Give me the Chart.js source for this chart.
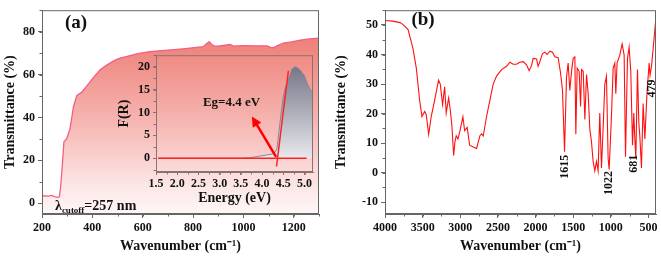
<!DOCTYPE html>
<html lang="en">
<head>
<meta charset="UTF-8">
<title>UV-Vis and FTIR spectra</title>
<script src="https://cdn.jsdelivr.net/npm/chart.js"></script>
<style>
  body { margin: 0; background: #fff; }
  #wrap { position: relative; width: 661px; height: 259px; }
  #wrap > div { position: absolute; }
</style>
</head>
<body>
<div id="wrap">
  <div style="left:0;top:0;width:330px;height:259px"><canvas id="uvChart"></canvas></div>
  <div style="left:110px;top:45px;width:210px;height:165px"><canvas id="insetChart"></canvas></div>
  <div style="left:330px;top:0;width:331px;height:259px"><canvas id="irChart"></canvas></div>
</div>
<script>
// (a) transmittance spectrum
const uvWave  = [200, 225, 238, 252, 262, 269, 274, 282, 287, 298, 311, 325, 338, 358, 378, 404, 431, 457, 490, 510, 538, 580, 629, 700, 760, 840, 852, 864, 874, 884, 900, 948, 960, 1000, 1050, 1094, 1110, 1119, 1135, 1159, 1190, 1226, 1260, 1300];
const uvTrans = [3.5, 3.3, 3.7, 3.0, 2.8, 3.0, 7.7, 19.7, 28.6, 30.1, 34.6, 45.0, 50.2, 51.8, 54.7, 58.5, 62.2, 64.4, 66.7, 67.7, 68.5, 69.8, 70.7, 71.4, 72.0, 73.0, 74.2, 75.3, 74.0, 73.4, 73.2, 74.0, 73.3, 73.5, 73.4, 73.4, 72.6, 72.5, 73.5, 74.7, 75.2, 76.0, 76.6, 77.0];

// (a) inset: Kubelka-Munk F(R) vs energy
const energy = [1.55, 2.0, 2.5, 3.0, 3.5, 3.7, 3.9, 4.1, 4.28, 4.35, 4.4, 4.45, 4.5, 4.55, 4.6, 4.65, 4.7, 4.78, 4.85, 4.92, 5.0, 5.08, 5.15, 5.19];
const fr     = [0, 0, 0, 0, 0, 0.1, 0.4, 0.7, 1.0, 2, 6, 10, 13.5, 15.5, 16.8, 18, 19.5, 20, 19.7, 19, 18, 16, 14.8, 14.5];
const baseE = [1.55, 5.05];
const baseF = [0, 0];
const tanE = [4.34, 4.62];
const tanF = [-1.8, 19.1];
const arrowFrom = [4.33, 0.3];
const arrowTo = [3.76, 9.1];
const egText = 'Eg=4.4 eV';
const egAt = [3.28, 12.2];

// (b) FTIR spectrum
const irWave = [4000, 3900, 3800, 3761, 3695, 3628, 3584, 3540, 3509, 3473, 3452, 3420, 3386, 3341, 3288, 3266, 3235, 3208, 3187, 3155, 3133, 3111, 3088, 3071, 3054, 3031, 3009, 2965, 2942, 2908, 2876, 2828, 2783, 2739, 2717, 2695, 2650, 2607, 2563, 2518, 2452, 2385, 2341, 2297, 2253, 2209, 2164, 2120, 2085, 2053, 2032, 1987, 1966, 1943, 1908, 1877, 1846, 1810, 1775, 1744, 1700, 1668, 1642, 1615, 1589, 1567, 1545, 1522, 1500, 1478, 1465, 1447, 1421, 1402, 1389, 1367, 1345, 1323, 1301, 1279, 1257, 1235, 1213, 1191, 1169, 1147, 1124, 1102, 1080, 1058, 1036, 1022, 992, 969, 947, 934, 917, 881, 850, 823, 805, 779, 757, 735, 712, 695, 681, 668, 646, 628, 615, 593, 571, 548, 518, 491, 479, 460, 438, 403, 400];
const irTrans = [51.5, 51.3, 50.8, 50.1, 48.5, 42, 35.4, 24.5, 19, 20.7, 19.6, 13, 19, 24.5, 31.3, 30, 23, 29.1, 20.2, 25.3, 21.2, 15.8, 5.8, 10.4, 12.5, 11.4, 13.6, 18.9, 14.2, 15.3, 9.3, 8.7, 8.2, 12.5, 13.1, 12.4, 19.1, 24.5, 30, 32.7, 34.9, 36, 37.4, 36.7, 36.7, 37.4, 37.6, 36.5, 34.5, 36.3, 38.7, 38.5, 36, 37.6, 40.3, 40.8, 40, 41.1, 40.8, 39.2, 38.9, 33.8, 27.8, 7.1, 32.2, 37.1, 27.8, 34.3, 38.7, 39.2, 13, 35.4, 34.3, 22.4, 34.9, 34.3, 18, 33.2, 26.7, 14.7, 10.4, 3.8, 0.6, 3.8, 0.6, 20.2, 1.6, 15.3, 30, 32.7, 4.9, 1.1, 19.1, 35.4, 37.1, 26.7, 37.1, 39.8, 43.6, 39.8, 5.4, 38.7, 42.5, 34.3, 9.3, 20.2, 11.4, 4.9, 34.9, 16.9, 12.5, 1.6, 23.4, 11.4, 27.8, 37.1, 33, 36, 42, 51.8, 38];
const irTicks = [4000, 3500, 3000, 2500, 2000, 1500, 1000, 500];
const peakLabels = ['1615', '1022', '681', '479'];
const peakWave = [1611, 1028, 696, 457];
const peakY = [2, -3.5, 3, 28.5];

const serif = '"Liberation Serif", "Times New Roman", serif';
Chart.defaults.font.family = serif;
Chart.defaults.font.weight = 'bold';
Chart.defaults.color = '#111';

const pts = (xs, ys) => xs.map((x, i) => ({x: x, y: ys[i]}));

// box around the plot plus small minor ticks
function framePlugin(color, minorX, minorY) {
    return {
        id: 'frame',
        afterDraw(chart) {
            const {ctx, chartArea: a, scales} = chart;
            ctx.save();
            ctx.strokeStyle = color;
            ctx.lineWidth = 1;
            ctx.strokeRect(a.left + 0.5, a.top + 0.5, a.right - a.left - 1, a.bottom - a.top - 1);
            ctx.beginPath();
            const sx = scales.x, sy = scales.y;
            for (let v = Math.ceil(sx.min / minorX) * minorX; v <= sx.max; v += minorX) {
                const px = Math.round(sx.getPixelForValue(v)) + 0.5;
                ctx.moveTo(px, a.bottom);
                ctx.lineTo(px, a.bottom + 2.5);
            }
            for (let v = Math.ceil(sy.min / minorY) * minorY; v <= sy.max; v += minorY) {
                const py = Math.round(sy.getPixelForValue(v)) + 0.5;
                ctx.moveTo(a.left, py);
                ctx.lineTo(a.left - 2.5, py);
            }
            ctx.stroke();
            ctx.restore();
        }
    };
}

function axisX(min, max, step, title, extra) {
    return Object.assign({
        type: 'linear', min: min, max: max,
        ticks: {stepSize: step, includeBounds: false, autoSkip: false, maxRotation: 0, padding: 3, font: {size: 12}, callback: v => String(v)},
        grid: {drawOnChartArea: false, tickLength: 4, color: '#666'},
        border: {color: '#666'},
        title: {display: true, text: title, font: {size: 14}, padding: {top: 0, bottom: 4}},
        afterFit: s => { s.height = 45; }
    }, extra || {});
}

function axisY(min, max, step, title, width, pad) {
    return {
        type: 'linear', min: min, max: max,
        ticks: {stepSize: step, includeBounds: false, autoSkip: false, padding: 3, font: {size: 12}, callback: v => String(v)},
        grid: {drawOnChartArea: false, tickLength: 4, color: '#666'},
        border: {color: '#666'},
        title: {display: true, text: title, font: {size: 14}, padding: {top: pad, bottom: 0}},
        afterFit: s => { s.width = width; }
    };
}

const uvNotes = {
    id: 'uvNotes',
    afterDraw(chart) {
        const ctx = chart.ctx;
        ctx.save();
        ctx.fillStyle = '#111';
        ctx.font = 'bold 19px ' + serif;
        ctx.textAlign = 'center';
        ctx.textBaseline = 'middle';
        ctx.fillText('(a)', 76, 23);
        ctx.textAlign = 'left';
        ctx.textBaseline = 'alphabetic';
        let x = 55;
        const y = 210;
        ctx.font = 'bold 14px ' + serif;
        ctx.fillText('λ', x, y);
        x += ctx.measureText('λ').width;
        ctx.font = 'bold 9px ' + serif;
        ctx.fillText('cutoff', x, y + 3);
        x += ctx.measureText('cutoff').width;
        ctx.font = 'bold 14px ' + serif;
        ctx.fillText('=257 nm', x, y);
        ctx.restore();
    }
};

const insetNotes = {
    id: 'insetNotes',
    afterDatasetsDraw(chart) {
        const {ctx, scales: {x, y}} = chart;
        const x0 = x.getPixelForValue(arrowFrom[0]), y0 = y.getPixelForValue(arrowFrom[1]);
        const x1 = x.getPixelForValue(arrowTo[0]), y1 = y.getPixelForValue(arrowTo[1]);
        const ang = Math.atan2(y1 - y0, x1 - x0);
        ctx.save();
        ctx.strokeStyle = '#f00';
        ctx.fillStyle = '#f00';
        ctx.lineWidth = 2.5;
        ctx.beginPath();
        ctx.moveTo(x0, y0);
        ctx.lineTo(x1 - 6 * Math.cos(ang), y1 - 6 * Math.sin(ang));
        ctx.stroke();
        ctx.beginPath();
        ctx.moveTo(x1, y1);
        ctx.lineTo(x1 - 10 * Math.cos(ang) + 5 * Math.sin(ang), y1 - 10 * Math.sin(ang) - 5 * Math.cos(ang));
        ctx.lineTo(x1 - 10 * Math.cos(ang) - 5 * Math.sin(ang), y1 - 10 * Math.sin(ang) + 5 * Math.cos(ang));
        ctx.closePath();
        ctx.fill();
        ctx.fillStyle = '#111';
        ctx.font = 'bold 13px ' + serif;
        ctx.textAlign = 'center';
        ctx.textBaseline = 'middle';
        ctx.fillText(egText, x.getPixelForValue(egAt[0]), y.getPixelForValue(egAt[1]));
        ctx.restore();
    }
};

const irNotes = {
    id: 'irNotes',
    afterDraw(chart) {
        const {ctx, scales: {x, y}} = chart;
        ctx.save();
        ctx.fillStyle = '#111';
        ctx.font = 'bold 19px ' + serif;
        ctx.textAlign = 'center';
        ctx.textBaseline = 'middle';
        ctx.fillText('(b)', 93, 20);
        ctx.font = 'bold 12px ' + serif;
        peakLabels.forEach((t, i) => {
            ctx.save();
            ctx.translate(x.getPixelForValue(peakWave[i]), y.getPixelForValue(peakY[i]));
            ctx.rotate(-Math.PI / 2);
            ctx.fillText(t, 0, 0);
            ctx.restore();
        });
        ctx.restore();
    }
};

function pinkFill(context) {
    const a = context.chart.chartArea;
    if (!a) return 'rgba(240,140,135,0.6)';
    const g = context.chart.ctx.createLinearGradient(0, a.top, 0, a.bottom);
    g.addColorStop(0, 'rgb(236,118,112)');
    g.addColorStop(0.2, 'rgb(239,135,128)');
    g.addColorStop(0.55, 'rgb(246,182,178)');
    g.addColorStop(0.85, 'rgb(252,228,228)');
    g.addColorStop(1, 'rgb(255,247,247)');
    return g;
}

function grayFill(context) {
    const a = context.chart.chartArea;
    if (!a) return 'rgba(150,150,165,0.8)';
    const y = context.chart.scales.y;
    const g = context.chart.ctx.createLinearGradient(0, y.getPixelForValue(20), 0, y.getPixelForValue(0));
    g.addColorStop(0, 'rgb(118,118,135)');
    g.addColorStop(1, 'rgb(232,232,238)');
    return g;
}

const common = {
    responsive: true,
    maintainAspectRatio: false,
    animation: false,
    plugins: {legend: {display: false}, tooltip: {enabled: false}},
    elements: {point: {radius: 0}, line: {tension: 0}}
};

new Chart(document.getElementById('uvChart'), {
    type: 'scatter',
    data: {datasets: [{
        data: pts(uvWave, uvTrans),
        showLine: true,
        borderColor: 'rgb(245,95,130)',
        borderWidth: 1.3,
        fill: 'start',
        backgroundColor: pinkFill
    }]},
    options: Object.assign({}, common, {
        layout: {padding: {top: 3, right: 11, left: 0, bottom: 0}},
        scales: {
            x: axisX(200, 1300, 200, 'Wavenumber (cm⁻¹)'),
            y: axisY(-5, 90, 20, 'Transmittance (%)', 42, 2)
        }
    }),
    plugins: [framePlugin('#666', 100, 10), uvNotes]
});

new Chart(document.getElementById('insetChart'), {
    type: 'scatter',
    data: {datasets: [
        {data: pts(baseE, baseF), showLine: true, borderColor: '#f22', borderWidth: 1.5, order: 1},
        {data: pts(tanE, tanF), showLine: true, borderColor: '#f22', borderWidth: 1.5, order: 0},
        {data: pts(energy, fr), showLine: true, borderColor: '#888896', borderWidth: 1, fill: 'origin', backgroundColor: grayFill, order: 2}
    ]},
    options: Object.assign({}, common, {
        layout: {padding: {top: 6, right: 7, left: 0, bottom: 0}},
        scales: {
            x: Object.assign(axisX(1.5, 5.2, 0.5, 'Energy (eV)'), {
                ticks: {stepSize: 0.5, includeBounds: false, autoSkip: false, maxRotation: 0, padding: 2, font: {size: 12}, callback: v => v.toFixed(1)},
                grid: {drawOnChartArea: false, tickLength: 3, color: '#8a7272'},
                border: {color: '#8a7272'},
                title: {display: true, text: 'Energy (eV)', font: {size: 14}, padding: {top: 0, bottom: 3}},
                afterFit: s => { s.height = 38; }
            }),
            y: Object.assign(axisY(-3, 22.5, 5, 'F(R)', 46, 6), {
                grid: {drawOnChartArea: false, tickLength: 3, color: '#8a7272'},
                border: {color: '#8a7272'}
            })
        }
    }),
    plugins: [framePlugin('#8a7272', 0.25, 2.5), insetNotes]
});

new Chart(document.getElementById('irChart'), {
    type: 'scatter',
    data: {datasets: [{
        data: pts(irWave, irTrans),
        showLine: true,
        borderColor: '#ff1010',
        borderWidth: 1.1,
        fill: false
    }]},
    options: Object.assign({}, common, {
        layout: {padding: {top: 3, right: 5, left: 0, bottom: 0}},
        scales: {
            x: axisX(400, 4000, 500, 'Wavenumber (cm⁻¹)', {
                reverse: true,
                afterBuildTicks: s => { s.ticks = irTicks.map(v => ({value: v})); }
            }),
            y: axisY(-14, 55, 10, 'Transmittance (%)', 55, 3)
        }
    }),
    plugins: [framePlugin('#666', 250, 5), irNotes]
});
</script>
</body>
</html>
